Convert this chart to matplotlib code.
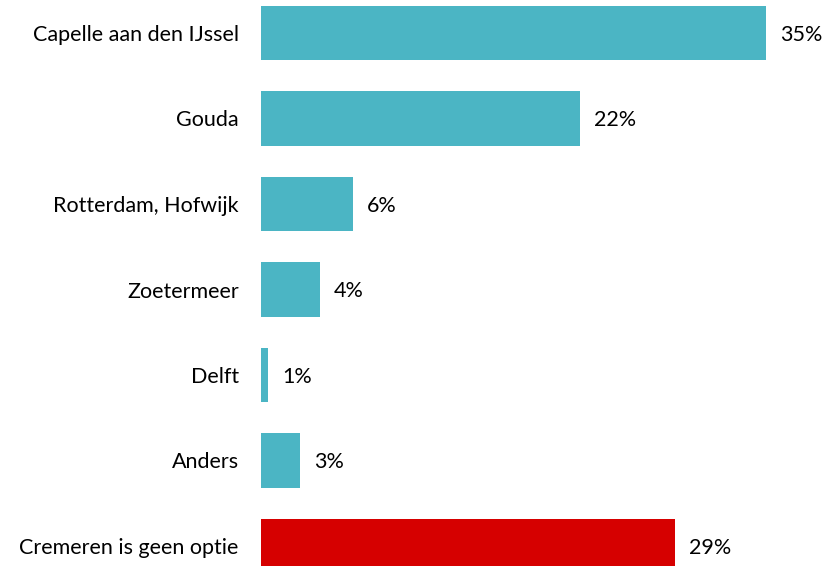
import matplotlib
matplotlib.use("Agg")
import matplotlib.pyplot as plt

# data
categories = ["Capelle aan den IJssel", "Gouda", "Rotterdam, Hofwijk",
              "Zoetermeer", "Delft", "Anders", "Cremeren is geen optie"]
values = [35.0, 22.1, 6.4, 4.1, 0.5, 2.7, 28.7]
labels = ["35%", "22%", "6%", "4%", "1%", "3%", "29%"]

TEAL = "#4bb5c4"
RED = "#d60000"
colors = [TEAL] * 6 + [RED]

plt.rcParams['font.family'] = ['Lato', 'DejaVu Sans']

fig = plt.figure(figsize=(8.25, 5.66), dpi=100)
W, H = 825, 566
ax = fig.add_axes([261 / W, 0, (W - 261) / W, 1])

y = list(range(len(categories)))
ax.barh(y, values, height=0.632, color=colors)

px_per_unit = 14.43
ax.set_xlim(0, (W - 261) / px_per_unit)
ax.set_ylim(6 + 20 / 85.5, -33 / 85.5)

for yi, v, lab in zip(y, values, labels):
    ax.text(v + 14 / px_per_unit, yi + 0.02, lab, va="center", ha="left",
            fontsize=15.5, color="#000000")

ax.set_yticks(y)
ax.set_yticklabels(categories, fontsize=15.5)
ax.tick_params(axis="y", length=0, pad=16)
ax.set_xticks([])
for s in ax.spines.values():
    s.set_visible(False)

fig.savefig("out.png", dpi=100)
